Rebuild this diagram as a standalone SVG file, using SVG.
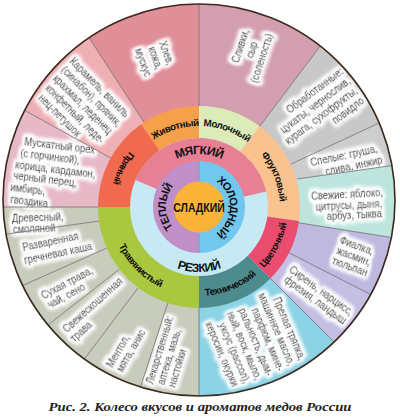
<svg xmlns="http://www.w3.org/2000/svg" width="400" height="419" viewBox="0 0 400 419">
<defs>
<style>
.t{font-family:"Liberation Sans",Arial,sans-serif;font-size:11.5px;fill:#111;stroke:#111;stroke-width:0.25}
.lb{font-family:"Liberation Sans",Arial,sans-serif;font-weight:bold;fill:#111}
.sep{stroke:#6f6f6f;stroke-width:0.8;fill:none}
.isep{stroke:#8a8a8a;stroke-width:0.6;fill:none}
.g{filter:url(#glow)}
</style>
<clipPath id="wheel"><circle cx="199" cy="200" r="196"/></clipPath>
<filter id="glow" x="-30%" y="-30%" width="160%" height="160%">
<feMorphology in="SourceAlpha" operator="dilate" radius="2" result="d"/>
<feGaussianBlur in="d" stdDeviation="2.2" result="b"/>
<feFlood flood-color="#ffffff"/>
<feComposite in2="b" operator="in" result="w"/>
<feMerge><feMergeNode in="w"/><feMergeNode in="w"/><feMergeNode in="w"/><feMergeNode in="SourceGraphic"/></feMerge>
</filter>
<path id="aZh" d="M131.1,162.9 A81,81 0 0 1 230.6,132.4"/>
<path id="aMo" d="M171.3,130.9 A81,81 0 0 1 269.1,166.5"/>
<path id="aFr" d="M237,135.5 A81,81 0 0 1 276,232"/>
<path id="aPr" d="M164.23,125.08 A89,89 0 0 0 112.28,227.03"/>
<path id="aCv" d="M233.8,288.9 A89,89 0 0 0 285.7,187"/>
<path id="aTe" d="M171.5,291.6 A89,89 0 0 0 277.6,248.8"/>
<path id="aTr" d="M110.3,214.8 A89,89 0 0 0 191.2,295.7"/>
<path id="aMy" d="M153.1,180.5 A53,53 0 0 1 244.9,180.5"/>
<path id="aRe" d="M142.7,239.5 A65,65 0 0 0 255.3,239.5"/>
<path id="aTp" d="M182.5,235.6 A33,33 0 0 1 182.5,178.4"/>
<path id="aHo" d="M214.5,180.15 A31,31 0 0 1 214.5,233.85"/>
</defs>
<rect width="400" height="419" fill="#ffffff"/>

<g id="outer-sectors" clip-path="url(#wheel)">
<g id="s-slivki"><path d="M199,207 L199,-8 A215,215 0 0 1 328.39,35.3 Z" fill="#d39fb0"/>
<text class="t g" text-anchor="middle" transform="translate(243.8,47.2) rotate(-72) scale(0.82,1)"><tspan x="0" y="0">Сливки,</tspan><tspan x="0" y="12">сыр</tspan><tspan x="-6" y="24">(соленость)</tspan></text></g>
<g id="s-obrab"><path d="M199,207 L328.39,35.3 A215,215 0 0 1 393.85,116.14 Z" fill="#c8c8c8"/>
<text class="t g" text-anchor="end" transform="translate(344,73) rotate(-37) scale(0.82,1)"><tspan x="0" y="0">Обработанные:</tspan><tspan x="0" y="12">цукаты, чернослив,</tspan><tspan x="0" y="24">курага, сухофрукты,</tspan><tspan x="-1" y="36">повидло</tspan></text></g>
<g id="s-spelye"><path d="M199,207 L393.85,116.14 L450,130 L451,157.2 L297,179 Z" fill="#cdcdcd"/>
<text class="t g" text-anchor="end" transform="translate(378,152) rotate(-12) scale(0.82,1)"><tspan x="0" y="0">Спелые: груша,</tspan><tspan x="3" y="12">слива, инжир</tspan></text></g>
<g id="s-svezhie"><path d="M199,207 L297,179 L451,157.2 L451,242 L411.36,240.63 Z" fill="#bde5de"/>
<text class="t g" text-anchor="end" transform="translate(383,196) rotate(-3) scale(0.82,1)"><tspan x="0" y="0">Свежие: яблоко,</tspan><tspan x="-1.5" y="11">цитрусы, дыня,</tspan><tspan x="-2.5" y="21.5">арбуз, тыква</tspan></text></g>
<g id="s-fialka"><path d="M199,207 L411.36,240.63 A215,215 0 0 1 390.57,304.61 Z" fill="#bfb8df"/>
<text class="t g" text-anchor="end" transform="translate(372,255) rotate(20) scale(0.82,1)"><tspan x="0" y="0">Фиалка,</tspan><tspan x="1.5" y="11">жасмин,</tspan><tspan x="2" y="22">тюльпан</tspan></text></g>
<g id="s-siren"><path d="M199,207 L390.57,304.61 A215,215 0 0 1 351.03,359.03 Z" fill="#c5bfe3"/>
<text class="t g" text-anchor="end" transform="translate(350,316) rotate(36) scale(0.82,1)"><tspan x="0" y="0">Сирень, нарцисс,</tspan><tspan x="-0.6" y="11.5">фрезия, ландыш</tspan></text></g>
<g id="s-prelaya"><path d="M199,207 L351.03,359.03 A215,215 0 0 1 199,422 Z" fill="#8dd3e6"/>
<text class="t g" text-anchor="end" transform="translate(299.2,361) rotate(67) scale(0.82,1)"><tspan x="0" y="0">Прелая тряпка,</tspan><tspan x="1" y="12">машинное масло,</tspan><tspan x="2" y="24">парфюм, мине-</tspan><tspan x="2" y="36">ральность, дым-</tspan><tspan x="1.5" y="48">ный, воск, мыло,</tspan><tspan x="0" y="60">уксус (рассол),</tspan><tspan x="-2.5" y="72">керосин, окурки</tspan></text></g>
<g id="s-lekarstv"><path d="M199,207 L199,422 A215,215 0 0 1 132.56,411.49 Z" fill="#c8ccbd"/>
<text class="t g" transform="translate(152.9,384.7) rotate(-73) scale(0.82,1)"><tspan x="0" y="0">Лекарственный:</tspan><tspan x="3" y="11">аптека, мазь,</tspan><tspan x="4" y="22">настойки</tspan></text></g>
<g id="s-mentol"><path d="M199,207 L132.56,411.49 A215,215 0 0 1 69.61,378.7 Z" fill="#c8ccbd"/>
<text class="t g" transform="translate(112.2,368.3) rotate(-60) scale(0.82,1)"><tspan x="0" y="0">Ментол,</tspan><tspan x="1.5" y="11.5">мята, анис</tspan></text></g>
<g id="s-svezheskosh"><path d="M199,207 L69.61,378.7 A215,215 0 0 1 29.58,339.38 Z" fill="#c8ccbd"/>
<text class="t g" transform="translate(66.8,333.1) rotate(-42) scale(0.82,1)"><tspan x="0" y="0">Свежескошенная</tspan><tspan x="-1" y="12.5">трава</tspan></text></g>
<g id="s-suhaya"><path d="M199,207 L29.58,339.38 A215,215 0 0 1 2.6,294.44 Z" fill="#c8ccbd"/>
<text class="t g" transform="translate(43.6,299.4) rotate(-28) scale(0.82,1)"><tspan x="0" y="0">Сухая трава,</tspan><tspan x="1.4" y="11.5">чай, сено</tspan></text></g>
<g id="s-razvar"><path d="M199,207 L2.6,294.44 A215,215 0 0 1 -13.91,236.93 Z" fill="#c8ccbd"/>
<text class="t g" transform="translate(23.4,251) rotate(-12) scale(0.82,1)"><tspan x="0" y="0">Разваренная</tspan><tspan x="-1.5" y="12.7">гречневая каша</tspan></text></g>
<g id="s-drevesn"><path d="M199,207 L-13.91,236.93 A215,215 0 0 1 -16,207 Z" fill="#c8ccbd"/>
<text class="t g" transform="translate(12,222) rotate(-2) scale(0.82,1)"><tspan x="0" y="0">Древесный,</tspan><tspan x="1" y="11">смоляной</tspan></text></g>
<g id="s-muskat"><path d="M199,207 L-16,207 A215,215 0 0 1 10.96,102.77 Z" fill="#e7b9c7"/>
<text class="t g" transform="translate(24,145) rotate(7) scale(0.82,1)"><tspan x="0" y="0">Мускатный орех</tspan><tspan x="-3.2" y="11.8">(с горчинкой),</tspan><tspan x="-7.6" y="23.6">корица, кардамон,</tspan><tspan x="-8.2" y="35.4">черный перец,</tspan><tspan x="-10.1" y="47.2">имбирь,</tspan><tspan x="-8.3" y="59">гвоздика</tspan></text></g>
<g id="s-karamel"><path d="M199,207 L10.96,102.77 A215,215 0 0 1 81.91,26.68 Z" fill="#eeb0b5"/>
<text class="t g" transform="translate(69,62) rotate(45) scale(0.82,1)"><tspan x="0" y="0">Карамель, ваниль</tspan><tspan x="0" y="12">(синабон), пряник,</tspan><tspan x="0.5" y="24">крахмал, леденец</tspan><tspan x="2" y="36">конфетный, леде-</tspan><tspan x="4.6" y="48">нец-петушок</tspan></text></g>
<g id="s-hlev"><path d="M199,207 L81.91,26.68 A215,215 0 0 1 199,-8 Z" fill="#e08e98"/>
<text class="t g" transform="translate(158.9,42.7) rotate(70) scale(0.82,1)"><tspan x="0" y="0">Хлев,</tspan><tspan x="1.8" y="12.5">кожа,</tspan><tspan x="-1.8" y="25">мускус</tspan></text></g>
</g>

<g id="dividers" clip-path="url(#wheel)">
<path class="sep" d="M199,106 L199,-8 M259.78,126.34 L328.39,35.3 M290.54,164.32 L393.85,116.14 M297,179 L451,157.2 M298.76,222.8 L411.36,240.63 M288.99,252.85 L390.57,304.61 M270.42,278.42 L351.03,359.03 M199,308 L199,422 M167.79,303.06 L132.56,411.49 M138.22,287.66 L69.61,378.7 M119.41,269.19 L29.58,339.38 M106.74,248.08 L2.6,294.44 M98.98,221.06 L-13.91,236.93 M98,207 L-16,207 M110.67,158.04 L10.96,102.77 M144,122.29 L81.91,26.68"/>
</g>

<g id="n-zhivotny"><path d="M199,207 L141.07,124.27 A101,101 0 0 1 199,106 Z" fill="#f6a04b"/>
<text class="lb" font-size="9.8" letter-spacing="-0.5"><textPath href="#aZh" startOffset="50%" text-anchor="middle">Животный</textPath></text></g>
<g id="n-molochny"><path d="M199,207 L199,106 A101,101 0 0 1 259.78,126.34 Z" fill="#dcebb8"/>
<text class="lb" font-size="9.8" letter-spacing="-0.5"><textPath href="#aMo" startOffset="50%" text-anchor="middle">Молочный</textPath></text></g>
<g id="n-fruktovy"><path d="M199,207 L259.78,126.34 A101,101 0 0 1 299.02,221.06 Z" fill="#f9c28e"/>
<text class="lb" font-size="9.8" letter-spacing="-0.5"><textPath href="#aFr" startOffset="50%" text-anchor="middle">Фруктовый</textPath></text></g>
<g id="n-cvetochny"><path d="M199,207 L299.02,221.06 A101,101 0 0 1 270.42,278.42 Z" fill="#ea4d6d"/>
<text class="lb" font-size="9.8" letter-spacing="-0.5"><textPath href="#aCv" startOffset="50%" text-anchor="middle">Цветочный</textPath></text></g>
<g id="n-tehnich"><path d="M199,207 L270.42,278.42 A101,101 0 0 1 199,308 Z" fill="#4e8b8c"/>
<text class="lb" font-size="9.8" letter-spacing="-0.5"><textPath href="#aTe" startOffset="50%" text-anchor="middle">Технический</textPath></text></g>
<g id="n-travyan"><path d="M199,207 L199,308 A101,101 0 0 1 98,207 Z" fill="#a9c83f"/>
<text class="lb" font-size="9.8" letter-spacing="-0.5"><textPath href="#aTr" startOffset="50%" text-anchor="middle">Травянистый</textPath></text></g>
<g id="n-pryany"><path d="M199,207 L98,207 A101,101 0 0 1 141.07,124.27 Z" fill="#f06a50"/>
<text class="lb" font-size="9.8" letter-spacing="-0.5"><textPath href="#aPr" startOffset="50%" text-anchor="middle">Пряный</textPath></text></g>

<g id="n-rezkiy"><circle cx="199" cy="207" r="69" fill="#c6e9f4"/>
<text class="lb" font-size="12" letter-spacing="-0.6"><textPath href="#aRe" startOffset="50%" text-anchor="middle">РЕЗКИЙ</textPath></text></g>
<g id="n-myagkiy"><path d="M199,207 L135.49,180.04 A69,69 0 0 1 266.23,191.48 Z" fill="#e77f95"/>
<text class="lb" font-size="12" letter-spacing="-0.6"><textPath href="#aMy" startOffset="50%" text-anchor="middle">МЯГКИЙ</textPath></text></g>
<g id="n-teply"><path d="M199,161 A46,46 0 0 0 199,253 Z" fill="#c08fc7"/>
<text class="lb" font-size="11" letter-spacing="-0.7"><textPath href="#aTp" startOffset="50%" text-anchor="middle">ТЕПЛЫЙ</textPath></text></g>
<g id="n-holodny"><path d="M199,161 A46,46 0 0 1 199,253 Z" fill="#72c7ee"/>
<text class="lb" font-size="11" letter-spacing="-0.7"><textPath href="#aHo" startOffset="50%" text-anchor="middle">ХОЛОДНЫЙ</textPath></text></g>
<path class="isep" d="M199,161 L199,181.5 M199,232.5 L199,253"/>
<g id="n-sladkiy"><circle cx="199" cy="207" r="25.5" fill="#fbb33a"/>
<text class="lb" font-size="12.5" text-anchor="middle" transform="translate(199,211.5) scale(0.84,1)">СЛАДКИЙ</text></g>

<circle cx="199" cy="200" r="196" fill="none" stroke="#3b2b1e" stroke-width="1.6"/>
<text x="200" y="411" text-anchor="middle" font-family="Liberation Serif,serif" font-weight="bold" font-style="italic" font-size="13.5" fill="#222" textLength="303" lengthAdjust="spacingAndGlyphs">Рис. 2. Колесо вкусов и ароматов медов России</text>
</svg>
